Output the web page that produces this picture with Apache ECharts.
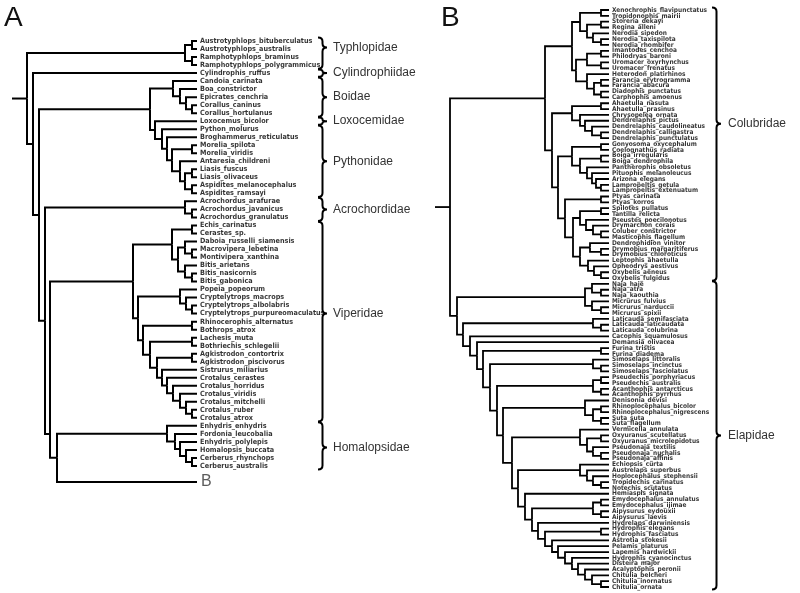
<!DOCTYPE html>
<html><head><meta charset="utf-8">
<script src="https://cdn.jsdelivr.net/npm/echarts@6/dist/echarts.min.js"></script>
<style>html,body{margin:0;padding:0;background:#fff}#c{width:800px;height:593px}</style>
</head><body><div id="c"></div>
<script>
// ---------- DATA ----------
// Newick-like trees: internal node label = node depth, optional "|row" = row override
const treeA = `
(
 ((Austrotyphlops_bituberculatus,Austrotyphlops_australis)180,(Ramphotyphlops_braminus,Ramphotyphlops_polygrammicus)180)173,
 (Cylindrophis_ruffus,
  (
   (
    (Candoia_carinata,(Boa_constrictor,(Epicrates_cenchria,(Corallus_caninus,Corallus_hortulanus)180)174)168)161,
    (Loxocemus_bicolor,(Python_molurus,(Broghammerus_reticulatus,((Morelia_spilota,Morelia_viridis)180,(Antaresia_childreni,((Liasis_fuscus,Liasis_olivaceus)180,(Aspidites_melanocephalus,Aspidites_ramsayi)180)173)168)160)155)150)143
   )138,
   (
    (Acrochordus_arafurae,(Acrochordus_javanicus,Acrochordus_granulatus)180)173,
    (
     (
      ((Echis_carinatus,Cerastes_sp.)180,((Daboia_russelli_siamensis,(Macrovipera_lebetina,Montivipera_xanthina)180)173,(Bitis_arietans,(Bitis_nasicornis,Bitis_gabonica)180)173)166)160,
      (
       (Popeia_popeorum,(Cryptelytrops_macrops,(Cryptelytrops_albolabris,Cryptelytrops_purpureomaculatus)180)174)168,
       ((Rhinocerophis_alternatus,Bothrops_atrox)180,((Lachesis_muta,Bothriechis_schlegelii)180,((Agkistrodon_contortrix,Agkistrodon_piscivorus)180,(Sistrurus_miliarius,(Crotalus_cerastes,(Crotalus_horridus,(Crotalus_viridis,(Crotalus_mitchelli,(Crotalus_ruber,Crotalus_atrox)180)174)168)161)155)150)145)138)131
      )126
     )121,
     (
      (Enhydris_enhydris,(Fordonia_leucobalia,(Enhydris_polylepis,(Homalopsis_buccata,(Cerberus_rhynchops,Cerberus_australis)180)174)168)163)155,
      B|56
     )45
    )38|50
   )33
  )27
 )21
)15`;

const treeB = `
(
 (
  (
   ((Xenochrophis_flavipunctatus,Tropidonophis_mairii)169,((Storeria_dekayi,Regina_alleni)169,(Nerodia_sipedon,(Nerodia_taxispilota,Nerodia_rhombifer)169)161)155)148,
   (((Imantodes_cenchoa,Philodryas_baroni)169,(Uromacer_oxyrhynchus,Uromacer_frenatus)169)155,(Heterodon_platirhinos,((Farancia_erytrogramma,Farancia_abacura)169,(Diadophis_punctatus,Carphophis_amoenus)169)162)155)144
  )140,
  (
   ((Ahaetulla_nasuta,Ahaetulla_prasinus)169,(Chrysopelea_ornata,(Dendrelaphis_pictus,(Dendrelaphis_caudolineatus,(Dendrelaphis_calligastra,Dendrelaphis_punctulatus)169)160)153)148)140,
   (
    ((Gonyosoma_oxycephalum,Coelognathus_radiata)169,((Boiga_irregularis,Boiga_dendrophila)169,(Pantherophis_obsoletus,(Pituophis_melanoleucus,(Arizona_elegans,(Lampropeltis_getula,Lampropeltis_extenuatum)169)164)160)155)148)140,
    (
     (Ptyas_carinata,Ptyas_korros)169,
     (
      ((Spilotes_pullatus,Tantilla_relicta)169,(Pseustes_poecilonotus,(Drymarchon_corais,(Coluber_constrictor,Masticophis_flagellum)169)161)154)148,
      ((Dendrophidion_vinitor,(Drymobius_margaritiferus,Drymobius_chloroticus)169)158,(Leptophis_ahaetulla,(Opheodrys_aestivus,(Oxybelis_aeneus,Oxybelis_fulgidus)169)162)156)148
     )141
    )133
   )126
  )120
 )113,
 (
  ((Naja_haje,(Naja_atra,Naja_kaouthia)169)160,(Micrurus_fulvius,(Micrurus_narduccii,Micrurus_spixii)169)160)153,
  (
   (Laticauda_semifasciata,(Laticauda_laticaudata,Laticauda_colubrina)169)161,
   (Cacophis_squamulosus,
    (Demansia_olivacea,
     ((Furina_tristis,Furina_diadema)169,
      ((Simoselaps_littoralis,(Simoselaps_incinctus,Simoselaps_fasciolatus)169)161,
       (((Pseudechis_porphyriacus,Pseudechis_australis)169,(Acanthophis_antarcticus,Acanthophis_pyrrhus)169)161,
        ((Denisonia_devisi,((Rhinoplocephalus_bicolor,Rhinoplocephalus_nigrescens)169,(Suta_suta,Suta_flagellum)169)161)153,
         ((Vermicella_annulata,((Oxyuranus_scutellatus,Oxyuranus_microlepidotus)169,(Pseudonaja_textilis,(Pseudonaja_nuchalis,Pseudonaja_affinis)169)161)155)148,
          ((Echiopsis_curta,(Austrelaps_superbus,(Hoplocephalus_stephensii,(Tropidechis_carinatus,Notechis_scutatus)169)161)155)148,
           (Hemiaspis_signata,
            (((Emydocephalus_annulatus,Emydocephalus_ijimae)169,(Aipysurus_eydouxii,Aipysurus_laevis)169)161,
             (Hydrelaps_darwiniensis,
              ((Hydrophis_elegans,Hydrophis_fasciatus)169,(Astrotia_stokesii,(Pelamis_platurus,(Lapemis_hardwickii,(Hydrophis_cyanocinctus,(Disteira_major,(Acalyptophis_peronii,(Chitulia_belcheri,(Chitulia_inornatus,Chitulia_ornata)169)160)153)146)140)133)126)120)113
             )106
            )100
           )93
          )86
         )80
        )71
       )65
      )58
     )51
    )45
   )38
  )31
 )25
)18`;

const tipDepthA = 185, stemStartA = 0, rowRangeA = [1, 56];
const tipDepthB = 177, stemStartB = 3, rowRangeB = [1, 100];
// [family, first row, last row, label row]
const familiesA = [
  ['Typhlopidae', 1, 4, 1.8], ['Cylindrophiidae', 5, 5, 5], ['Boidae', 6, 10, 8],
  ['Loxocemidae', 11, 11, 11], ['Pythonidae', 12, 20, 16], ['Acrochordidae', 21, 23, 22],
  ['Viperidae', 24, 48, 35], ['Homalopsidae', 49, 54, 51.7]
];
const familiesB = [['Colubridae', 1, 47, 20.5], ['Elapidae', 48, 100, 74]];
const panelLetters = ['A', 'B'];

// ---------- helpers ----------
function parseNewick(src) {
  const s = src.replace(/\s+/g, '');
  let i = 0;
  function label() { const st = i; while (i < s.length && '(),'.indexOf(s[i]) < 0) i++; return s.slice(st, i); }
  function node() {
    if (s[i] === '(') {
      i++;
      const children = [node()];
      while (s[i] === ',') { i++; children.push(node()); }
      i++;
      const [d, r] = label().split('|');
      return { children, depth: +d, row: r ? +r : null };
    }
    const [n, r] = label().split('|');
    return { name: n, row: r ? +r : null };
  }
  return node();
}
function layoutTree(root, tipDepth, stemStart) {
  let row = 0; const tips = [], segs = [];
  (function walk(n) {
    if (!n.children) { row = n.row != null ? n.row : row + 1; n.row = row; n.depth = tipDepth; tips.push(n); return; }
    n.children.forEach(walk);
    if (n.row == null) n.row = (n.children[0].row + n.children[n.children.length - 1].row) / 2;
  })(root);
  (function seg(n) {
    if (!n.children) return;
    n.children.forEach(c => { segs.push({ coords: [[n.depth, n.row], [n.depth, c.row], [c.depth, c.row]] }); seg(c); });
  })(root);
  segs.push({ coords: [[stemStart, root.row], [root.depth, root.row]] });
  return { tips, segs };
}

const A = layoutTree(parseNewick(treeA), tipDepthA, stemStartA);
const B = layoutTree(parseNewick(treeB), tipDepthB, stemStartB);

const tipFont = "'DejaVu Sans Condensed', 'Liberation Sans Narrow', sans-serif";
const famFont = "'Liberation Sans', Arial, sans-serif";

function braceSeries(idx, fams, tipDepth, offset, labelGap) {
  return {
    type: 'custom', xAxisIndex: idx, yAxisIndex: idx, silent: true, animation: false,
    data: fams.map(f => [tipDepth, f[3]]),
    renderItem: function (params, api) {
      const f = fams[params.dataIndex];
      const x0 = api.coord([tipDepth, f[1]])[0] + offset;
      const yT = api.coord([tipDepth, f[1] - 0.45])[1];
      const yB = api.coord([tipDepth, f[2] + 0.45])[1];
      const yM = api.coord([tipDepth, f[3]])[1];
      const w = 9, xs = x0 + w / 2, xp = x0 + w;
      const r = Math.min(4, (yB - yT) / 4);
      const d = `M${x0} ${yT} Q${xs} ${yT} ${xs} ${yT + r} L${xs} ${yM - r} Q${xs} ${yM} ${xp} ${yM} Q${xs} ${yM} ${xs} ${yM + r} L${xs} ${yB - r} Q${xs} ${yB} ${x0} ${yB}`;
      return { type: 'group', children: [
        { type: 'path', shape: { pathData: d }, style: { fill: 'none', stroke: '#000', lineWidth: 2 } },
        { type: 'text', x: xp + labelGap, y: yM, style: { text: f[0], fill: '#333', fontSize: 12, fontFamily: famFont, verticalAlign: 'middle', align: 'left' } }
      ] };
    }
  };
}

function tipSeries(idx, tips, size) {
  return {
    type: 'scatter', xAxisIndex: idx, yAxisIndex: idx, symbolSize: 0, silent: true, animation: false,
    data: tips.map(t => ({ name: t.name, value: [t.depth, t.row],
      label: t.name.length === 1 ? { fontSize: 16, fontWeight: 'normal', color: '#333', fontFamily: famFont, distance: 4 } : undefined })),
    label: { show: true, position: 'right', distance: 3, formatter: '{b}', fontSize: size, fontWeight: 'bold', fontFamily: tipFont, color: '#000' }
  };
}
function lineSeries(idx, segs, w) {
  return { type: 'lines', coordinateSystem: 'cartesian2d', xAxisIndex: idx, yAxisIndex: idx, polyline: true, silent: true, animation: false,
    data: segs, lineStyle: { color: '#000', width: w, opacity: 1 } };
}

const chart = echarts.init(document.getElementById('c'), null, { renderer: 'canvas' });
chart.setOption({
  backgroundColor: '#fff',
  animation: false,
  graphic: [
    { type: 'text', left: 4, top: 4, style: { text: panelLetters[0], fontSize: 28, fontFamily: famFont, fill: '#111' } },
    { type: 'text', left: 441, top: 4, style: { text: panelLetters[1], fontSize: 28, fontFamily: famFont, fill: '#111' } }
  ],
  grid: [
    { left: 12, top: 41, width: 185, height: 441 },
    { left: 432, top: 10, width: 177, height: 577 }
  ],
  xAxis: [
    { gridIndex: 0, type: 'value', min: 0, max: tipDepthA, show: false },
    { gridIndex: 1, type: 'value', min: 0, max: tipDepthB, show: false }
  ],
  yAxis: [
    { gridIndex: 0, type: 'value', min: rowRangeA[0], max: rowRangeA[1], inverse: true, show: false },
    { gridIndex: 1, type: 'value', min: rowRangeB[0], max: rowRangeB[1], inverse: true, show: false }
  ],
  series: [
    lineSeries(0, A.segs, 2),
    tipSeries(0, A.tips, 7.2),
    braceSeries(0, familiesA, tipDepthA, 121, 6),
    lineSeries(1, B.segs, 1.8),
    tipSeries(1, B.tips, 6.5),
    braceSeries(1, familiesB, tipDepthB, 103, 7)
  ]
});
</script></body></html>
